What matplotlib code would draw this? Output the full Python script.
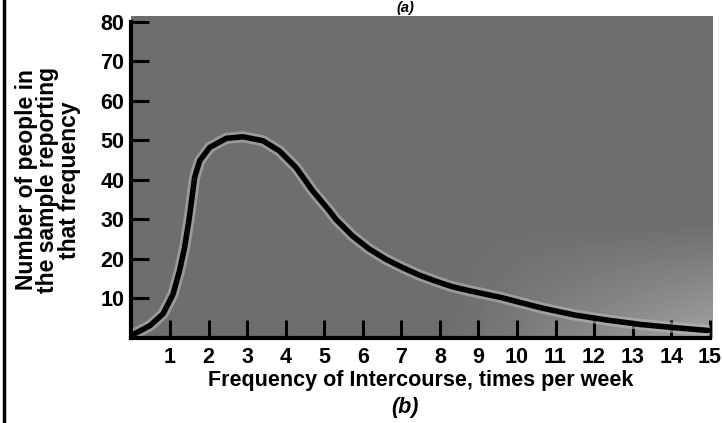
import numpy as np
import matplotlib.pyplot as plt
from matplotlib.lines import Line2D

# frequency (times per week) and number of people
freq = [0.0, 0.09, 0.48, 0.82, 1.08, 1.25, 1.38, 1.49, 1.56, 1.64, 1.77, 2.03, 2.46,
        2.89, 3.41, 3.84, 4.27, 4.70, 5.13, 5.30, 5.73, 6.16, 6.59, 7.02, 7.45, 7.89,
        8.32, 8.75, 9.18, 9.61, 10.04, 10.64, 11.5, 12.36, 13.22, 14.09, 14.95]
people = [0.6, 1.0, 3.0, 6.0, 11.0, 17.0, 22.9, 29.6, 34.7, 40.6, 44.8, 48.2, 50.5,
          50.9, 49.9, 47.3, 43.1, 37.2, 32.2, 30.0, 25.8, 22.5, 19.9, 17.8, 15.9, 14.3,
          12.9, 11.9, 11.0, 10.1, 9.0, 7.5, 5.7, 4.4, 3.3, 2.5, 1.8]

x_ticks = list(range(1, 16))
y_ticks = list(range(10, 90, 10))

plt.rcParams['font.family'] = ['Liberation Sans', 'DejaVu Sans']
plt.rcParams['font.weight'] = 'bold'

fig = plt.figure(figsize=(7.22, 4.23), dpi=100)
ax = fig.add_axes([0.182, 0.202, 0.801, 0.746])

# grey photo-like backdrop, a bit lighter towards the lower right
gx, gy = np.meshgrid(np.linspace(0, 1, 60), np.linspace(1, 0, 60))
shade = 0.43 + 0.2 * np.clip((gx - 0.55) / 0.45, 0, 1) * np.clip((0.35 - gy) / 0.35, 0, 1)
ax.imshow(shade, cmap='gray', vmin=0, vmax=1, extent=(0, 15.08, 0, 81.5),
          aspect='auto', interpolation='bicubic', clip_on=False, zorder=0)

ax.plot(freq, people, color='#b8b8b8', lw=8, alpha=0.6, solid_capstyle='round', zorder=2)
ax.plot(freq, people, color='black', lw=4, solid_capstyle='round', zorder=3)

ax.set_xlim(0, 15)
ax.set_ylim(0, 80)
ax.set_xticks(x_ticks)
ax.set_yticks(y_ticks)
ax.tick_params(direction='in', length=13, width=2.2, labelsize=15.5)
ax.tick_params(axis='x', pad=7)
ax.tick_params(axis='y', pad=5)
for lab in ax.get_xticklabels() + ax.get_yticklabels():
    lab.set_fontweight('bold')

for s in ['top', 'right']:
    ax.spines[s].set_visible(False)
for s in ['left', 'bottom']:
    ax.spines[s].set_linewidth(3)
    ax.spines[s].set_zorder(4)

ax.set_xlabel('Frequency of Intercourse, times per week', fontsize=15.5,
              fontweight='bold', labelpad=1)
fig.text(48 / 722, 1 - 180 / 423, 'Number of people in\nthe sample reporting\nthat frequency',
         rotation=90, ha='center', va='center', fontsize=16.5, fontweight='bold',
         linespacing=0.9)

fig.text(405 / 722, 1 - 407 / 423, '(b)', ha='center', va='center', fontsize=15.5,
         fontweight='bold', style='italic')
fig.text(405 / 722, 0.997, '(a)', ha='center', va='top', fontsize=10.5,
         fontweight='bold', style='italic')
fig.add_artist(Line2D([0.0062, 0.0062], [0, 1], color='black', lw=2.5,
                      transform=fig.transFigure))

fig.savefig('out.png', dpi=100)
